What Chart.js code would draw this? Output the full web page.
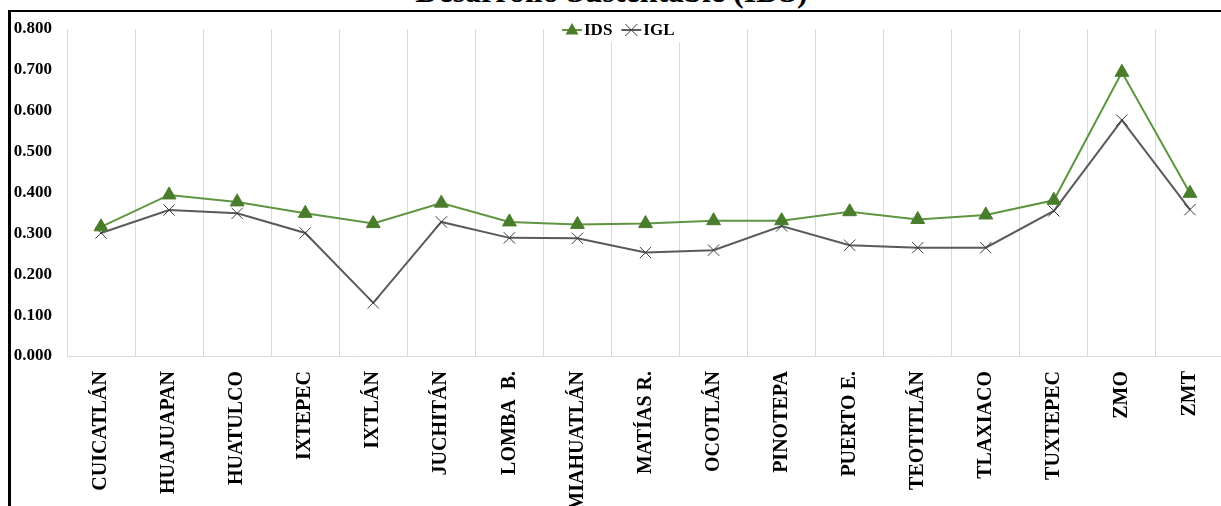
<!DOCTYPE html>
<html>
<head>
<meta charset="utf-8">
<script src="https://cdn.jsdelivr.net/npm/chart.js@4/dist/chart.umd.min.js"></script>
<style>
  html, body { margin: 0; padding: 0; background: #fff; overflow: hidden; width: 1221px; height: 506px; }
  #frame { position: absolute; left: 8px; top: 10px; width: 1260px; height: 520px;
           border-left: 3px solid #000; border-top: 2px solid #000; }
  #title { position: absolute; left: 0; top: -25px; width: 1223px; text-align: center;
           font: bold 32px "Liberation Serif", "Times New Roman", serif; line-height: 32px; color: #000; }
  #chart { position: absolute; left: 0; top: 0; }
</style>
</head>
<body>
<div id="title">Desarrollo Sustentable (IDS)</div>
<div id="frame"></div>
<canvas id="chart" width="1240" height="506"></canvas>
<script>
const categories = ["CUICATLÁN", "HUAJUAPAN", "HUATULCO", "IXTEPEC", "IXTLÁN", "JUCHITÁN",
  "LOMBA  B.", "MIAHUATLÁN", "MATÍAS R.", "OCOTLÁN", "PINOTEPA", "PUERTO E.",
  "TEOTITLÁN", "TLAXIACO", "TUXTEPEC", "ZMO", "ZMT"];
const idsValues = [0.316, 0.394, 0.377, 0.349, 0.324, 0.374, 0.328, 0.322, 0.324,
  0.331, 0.331, 0.353, 0.334, 0.345, 0.381, 0.694, 0.398];
const iglValues = [0.301, 0.357, 0.349, 0.301, 0.130, 0.328, 0.289, 0.288, 0.253,
  0.259, 0.318, 0.271, 0.265, 0.265, 0.355, 0.577, 0.358];
const yTicks = [0, 0.1, 0.2, 0.3, 0.4, 0.5, 0.6, 0.7, 0.8];

const serif = "'Liberation Serif', 'Times New Roman', serif";

// leyenda dentro del área del gráfico, como en Excel
const insideLegend = {
  id: "insideLegend",
  afterDraw(chart) {
    const ctx = chart.ctx;
    const items = chart.data.datasets;
    const y = 30;
    let x = 562;
    ctx.save();
    ctx.fillStyle = "#fff";
    ctx.fillRect(556, 19, 128, 23);
    ctx.font = "bold 17px " + serif;
    ctx.textBaseline = "middle";
    items.forEach((ds) => {
      ctx.strokeStyle = ds.borderColor;
      ctx.lineWidth = 2;
      ctx.beginPath();
      ctx.moveTo(x, y);
      ctx.lineTo(x + 20, y);
      ctx.stroke();
      const cx = x + 10;
      if (ds.pointStyle === "triangle") {
        ctx.fillStyle = ds.pointBackgroundColor;
        ctx.beginPath();
        ctx.moveTo(cx, y - 7);
        ctx.lineTo(cx + 6.5, y + 4.5);
        ctx.lineTo(cx - 6.5, y + 4.5);
        ctx.closePath();
        ctx.fill();
      } else {
        ctx.strokeStyle = ds.pointBorderColor;
        ctx.lineWidth = 1;
        ctx.beginPath();
        ctx.moveTo(cx - 6, y - 6); ctx.lineTo(cx + 6, y + 6);
        ctx.moveTo(cx + 6, y - 6); ctx.lineTo(cx - 6, y + 6);
        ctx.stroke();
      }
      ctx.fillStyle = "#000";
      ctx.textAlign = "left";
      ctx.fillText(ds.label, x + 22, y + 1);
      x += 22 + ctx.measureText(ds.label).width + 9;
    });
    ctx.restore();
  }
};

const ctx = document.getElementById("chart").getContext("2d");
const chart = new Chart(ctx, {
  type: "line",
  data: {
    labels: categories,
    datasets: [
      {
        label: "IDS",
        data: idsValues,
        borderColor: "#5f9540",
        borderWidth: 2,
        pointStyle: "triangle",
        pointRadius: 8,
        pointBackgroundColor: "#4a7d2b",
        pointBorderColor: "#4a7d2b",
        pointBorderWidth: 1,
        tension: 0,
        fill: false,
      },
      {
        label: "IGL",
        data: iglValues,
        borderColor: "#5a5a5a",
        borderWidth: 2,
        pointStyle: "crossRot",
        pointRadius: 8,
        pointBorderColor: "#3a3a3a",
        pointBackgroundColor: "#3a3a3a",
        pointBorderWidth: 1,
        tension: 0,
        fill: false,
      },
    ],
  },
  options: {
    responsive: false,
    animation: false,
    devicePixelRatio: 1,
    layout: { padding: { top: 29, right: 16, left: 0, bottom: 0 } },
    plugins: {
      legend: { display: false },
      tooltip: { enabled: false },
    },
    scales: {
      x: {
        offset: true,
        grid: { offset: true, color: "#d9d9d9", lineWidth: 1, drawTicks: false },
        border: { color: "#d9d9d9" },
        ticks: {
          autoSkip: false,
          maxRotation: 90,
          minRotation: 90,
          padding: 15,
          color: "#000",
          font: { family: serif, size: 20, weight: "bold" },
        },
        afterFit(scale) { scale.height = 150; },
      },
      y: {
        min: 0,
        max: 0.8,
        afterBuildTicks(scale) { scale.ticks = yTicks.map((v) => ({ value: v })); },
        grid: { display: false },
        border: { display: false },
        ticks: {
          padding: 7,
          color: "#000",
          font: { family: serif, size: 17, weight: "bold" },
          callback: (v) => Number(v).toFixed(3),
        },
        afterFit(scale) { scale.width = 67; },
      },
    },
  },
  plugins: [insideLegend],
});
</script>
</body>
</html>
